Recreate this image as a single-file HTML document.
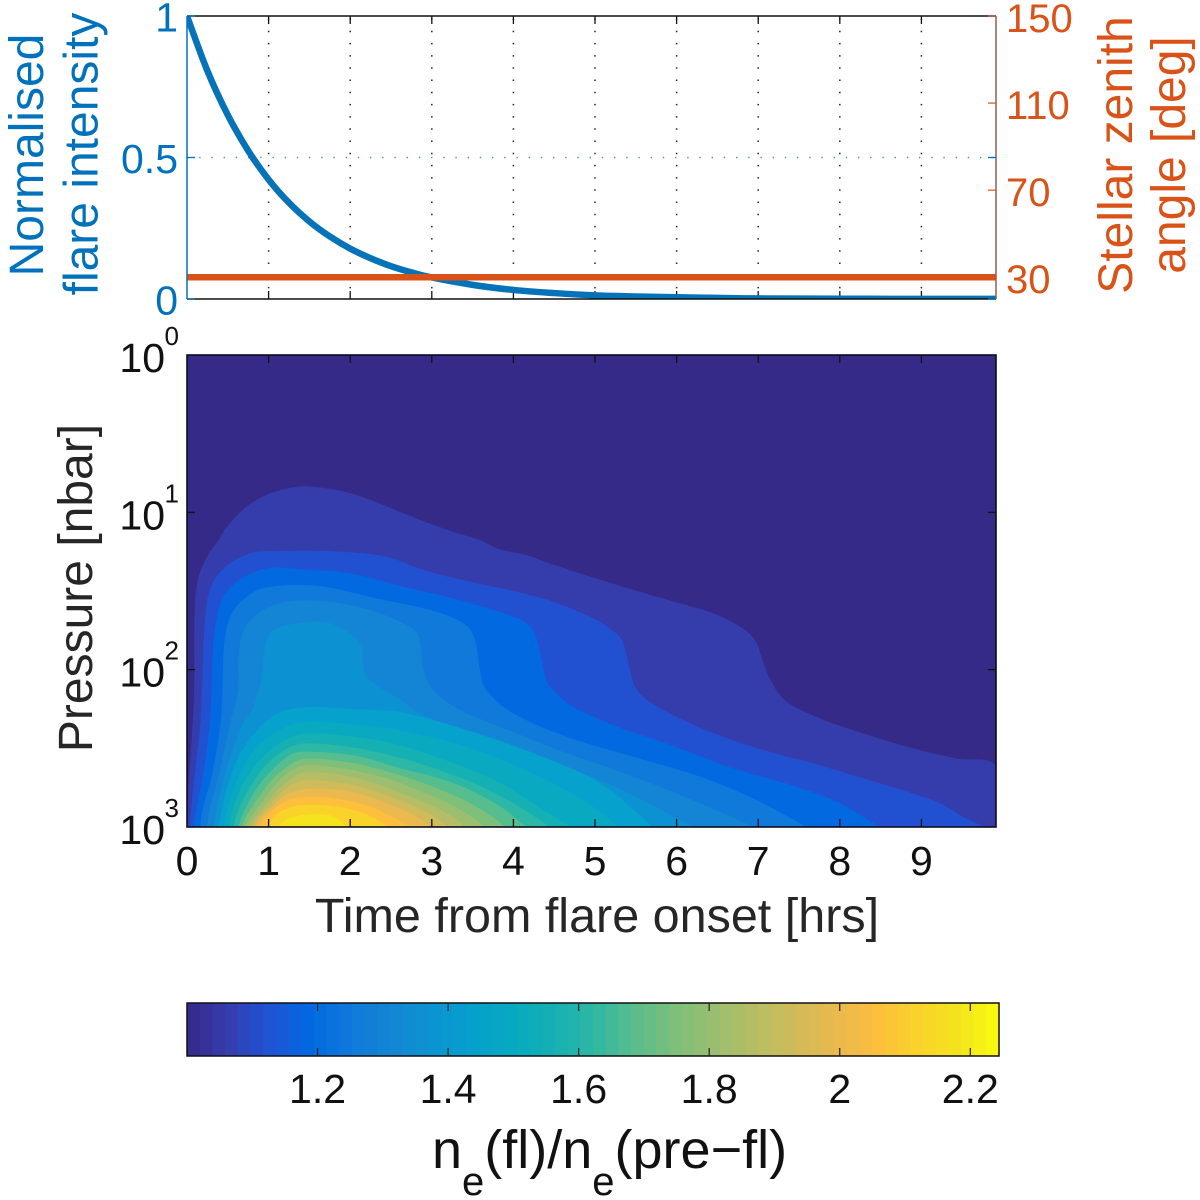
<!DOCTYPE html>
<html lang="en">
<head>
<meta charset="utf-8">
<title>Flare electron density ratio</title>
<style>
  html, body { margin: 0; padding: 0; background: #ffffff; }
  svg { display: block; font-family: "Liberation Sans", sans-serif; }
</style>
</head>
<body>
<svg id="chart" xmlns="http://www.w3.org/2000/svg" width="1200" height="1200" viewBox="0 0 1200 1200">
  <defs>
    <clipPath id="top-clip"><rect x="187" y="16" width="809" height="283"/></clipPath>
    <clipPath id="main-clip"><rect x="187" y="355" width="809" height="472"/></clipPath>
  </defs>
  <rect x="0" y="0" width="1200" height="1200" fill="#ffffff"/>

  <g id="top-panel"></g>
  <g id="main-panel"></g>
  <g id="colorbar"></g>

  <text transform="translate(43,155) rotate(-90)" text-anchor="middle" font-size="48" fill="#0072bd">Normalised</text>
  <text transform="translate(97.5,154) rotate(-90)" text-anchor="middle" font-size="48" fill="#0072bd">flare intensity</text>
  <text transform="translate(1132,155) rotate(-90)" text-anchor="middle" font-size="48" fill="#d95319">Stellar zenith</text>
  <text transform="translate(1185,155) rotate(-90)" text-anchor="middle" font-size="48" fill="#d95319">angle [deg]</text>
  <text transform="translate(92,588) rotate(-90)" text-anchor="middle" font-size="48" fill="#262626">Pressure [nbar]</text>
  <text x="597" y="932" text-anchor="middle" font-size="48.5" fill="#262626">Time from flare onset [hrs]</text>
  <text x="432" y="1168" font-size="54" fill="#111111">n<tspan dy="27" font-size="40">e</tspan><tspan dy="-27">(fl)/n</tspan><tspan dy="27" font-size="40">e</tspan><tspan dy="-27">(pre−fl)</tspan></text>
</svg>

<script>
// ---------- data: top panel ----------
const flareHours = [0, 0.25, 0.5, 0.75, 1, 1.25, 1.5, 1.75, 2, 2.25, 2.5, 2.75, 3, 3.5, 4, 4.5, 5, 5.5, 6, 6.5, 7, 8, 9, 9.92];
const flareIntensity = [1, 0.806, 0.65, 0.524, 0.422, 0.34, 0.274, 0.221, 0.178, 0.144, 0.116, 0.094, 0.076, 0.05, 0.032, 0.021, 0.013, 0.009, 0.006, 0.004, 0.002, 0.001, 0.0005, 0.0003];
const zenithHours = [0, 9.92];
const zenithAngle = [30, 30];
const intensityTicks = [0, 0.5, 1];
const intensityTickLabels = ['0', '0.5', '1'];
const zenithTicks = [30, 70, 110, 150];
const zenithTickLabels = ['30', '70', '110', '150'];
const hourTicks = [0, 1, 2, 3, 4, 5, 6, 7, 8, 9];
const hourTickLabels = ['0', '1', '2', '3', '4', '5', '6', '7', '8', '9'];

// ---------- data: contour plot (each line: [hours, log10 pressure in nbar]) ----------
const pressureExponents = [0, 1, 2, 3];
const contourLevels = [1.06, 1.12, 1.19, 1.25, 1.31, 1.37, 1.44, 1.50, 1.56, 1.62, 1.68, 1.75, 1.81, 1.87, 1.93, 2.0, 2.06, 2.12, 2.18];
const contour01 = [[0,3],[0.01,2.87],[0.02,2.72],[0.05,2.49],[0.08,2.236],[0.09,2.02],[0.09,1.706],[0.123,1.451],[0.245,1.282],[0.388,1.176],[0.49,1.091],[0.73,0.964],[1.02,0.879],[1.34,0.837],[1.55,0.837],[1.83,0.858],[2.08,0.89],[2.41,0.954],[2.86,1.049],[3.26,1.123],[3.59,1.176],[3.82,1.233],[4.16,1.272],[4.45,1.325],[4.94,1.409],[5.55,1.505],[6.04,1.579],[6.45,1.642],[6.78,1.727],[6.96,1.812],[7.04,1.918],[7.15,2.066],[7.35,2.204],[7.76,2.31],[8.29,2.405],[8.9,2.5],[9.43,2.564],[9.92,2.617],[9.92,3]];
const contour02 = [[0.03,3],[0.06,2.83],[0.12,2.55],[0.163,2.34],[0.19,2.05],[0.204,1.81],[0.266,1.515],[0.45,1.356],[0.776,1.26],[1.14,1.246],[1.71,1.246],[2.41,1.278],[2.9,1.367],[3.47,1.441],[4.04,1.505],[4.49,1.568],[4.94,1.663],[5.18,1.738],[5.33,1.812],[5.41,1.96],[5.49,2.108],[5.67,2.204],[6.04,2.31],[6.57,2.426],[7.14,2.522],[7.68,2.596],[8.29,2.691],[8.9,2.787],[9.23,2.85],[9.51,2.935],[9.78,3]];
const contour03 = [[0.08,3],[0.12,2.87],[0.2,2.66],[0.286,2.3],[0.306,2.024],[0.327,1.81],[0.41,1.579],[0.613,1.441],[0.98,1.356],[1.43,1.363],[2.0,1.388],[2.65,1.473],[3.26,1.547],[3.88,1.642],[4.16,1.706],[4.29,1.812],[4.39,2.045],[4.49,2.13],[4.73,2.236],[5.27,2.363],[5.88,2.47],[6.65,2.62],[7.47,2.744],[8.0,2.85],[8.49,3]];
const contour04 = [[0.16,3],[0.2,2.87],[0.31,2.66],[0.42,2.3],[0.45,1.875],[0.53,1.663],[0.735,1.536],[1.02,1.473],[1.63,1.469],[2.32,1.547],[2.98,1.621],[3.39,1.706],[3.53,1.812],[3.59,2.0],[3.67,2.13],[4.0,2.278],[4.65,2.426],[5.47,2.553],[6.29,2.68],[6.98,2.829],[7.59,3]];
const contour05 = [[0.245,3],[0.286,2.87],[0.41,2.62],[0.53,2.34],[0.6,2.2],[0.633,2.087],[0.633,1.918],[0.694,1.748],[0.9,1.632],[1.225,1.568],[1.75,1.568],[2.24,1.621],[2.65,1.706],[2.84,1.79],[2.9,2.0],[3.02,2.13],[3.35,2.257],[4.04,2.405],[4.65,2.53],[5.47,2.68],[6.29,2.85],[6.94,3]];
const contour06 = [[0.327,3],[0.37,2.87],[0.49,2.62],[0.674,2.36],[0.797,2.257],[0.88,2.13],[0.92,2.03],[0.94,1.918],[0.98,1.81],[1.1,1.738],[1.43,1.7],[1.71,1.7],[1.96,1.759],[2.14,1.854],[2.2,2.045],[2.61,2.19],[2.94,2.3],[3.84,2.47],[4.65,2.617],[5.47,2.8],[6.2,3]];
const contour07 = [[0.39,3],[0.45,2.83],[0.61,2.575],[0.86,2.384],[1.14,2.27],[1.55,2.236],[2.0,2.25],[2.61,2.27],[3.43,2.384],[4.24,2.53],[5.06,2.72],[5.71,3]];
const contour08 = [[0.45,3],[0.51,2.85],[0.65,2.66],[0.86,2.49],[1.185,2.37],[1.5,2.33],[2.1,2.35],[2.61,2.385],[3.43,2.49],[4.24,2.66],[4.86,2.83],[5.3,3]];
const contour09 = [[0.51,3],[0.57,2.87],[0.715,2.7],[0.94,2.55],[1.225,2.44],[1.5,2.405],[2.1,2.43],[2.61,2.48],[3.22,2.585],[3.84,2.72],[4.24,2.85],[4.71,3]];
const contour10 = [[0.57,3],[0.63,2.89],[0.776,2.744],[0.98,2.6],[1.27,2.49],[1.55,2.469],[2.1,2.5],[2.61,2.56],[3.1,2.64],[3.6,2.74],[4.1,2.88],[4.45,3]];
const contour11 = [[0.63,3],[0.69,2.91],[0.84,2.765],[1.02,2.65],[1.27,2.54],[1.55,2.522],[2.1,2.55],[2.61,2.627],[3.02,2.68],[3.43,2.755],[3.84,2.87],[4.16,3]];
const contour12 = [[0.67,3],[0.74,2.92],[0.88,2.81],[1.06,2.69],[1.31,2.59],[1.55,2.564],[2.1,2.6],[2.6,2.67],[3.0,2.74],[3.4,2.83],[3.7,2.92],[3.9,3]];
const contour13 = [[0.71,3],[0.79,2.93],[0.92,2.84],[1.1,2.72],[1.31,2.63],[1.55,2.606],[2.05,2.64],[2.5,2.7],[2.9,2.78],[3.25,2.86],[3.5,2.94],[3.65,3]];
const contour14 = [[0.75,3],[0.83,2.94],[0.96,2.86],[1.14,2.75],[1.35,2.67],[1.55,2.65],[2.0,2.68],[2.4,2.74],[2.8,2.82],[3.1,2.89],[3.3,2.95],[3.4,3]];
const contour15 = [[0.79,3],[0.87,2.94],[1.0,2.87],[1.18,2.77],[1.35,2.715],[1.55,2.7],[2.0,2.73],[2.35,2.78],[2.7,2.85],[2.95,2.91],[3.1,2.96],[3.2,3]];
const contour16 = [[0.83,3],[0.91,2.94],[1.05,2.87],[1.2,2.8],[1.38,2.765],[1.55,2.755],[1.95,2.77],[2.3,2.82],[2.6,2.88],[2.8,2.93],[3.0,3]];
const contour17 = [[0.88,3],[0.96,2.94],[1.1,2.87],[1.3,2.82],[1.6,2.808],[1.95,2.83],[2.25,2.87],[2.5,2.93],[2.75,3]];
const contour18 = [[0.98,3],[1.1,2.92],[1.3,2.87],[1.6,2.86],[1.9,2.875],[2.15,2.91],[2.35,2.96],[2.45,3]];
const contour19 = [[1.12,3],[1.25,2.945],[1.55,2.918],[1.8,2.935],[1.95,3]];
const contourLines = [contour01, contour02, contour03, contour04, contour05, contour06, contour07, contour08, contour09, contour10, contour11, contour12, contour13, contour14, contour15, contour16, contour17, contour18, contour19];

// ---------- data: colour scale ----------
const colorbarMin = 1.0;
const colorbarMax = 2.244;
const colorbarTicks = [1.2, 1.4, 1.6, 1.8, 2.0, 2.2];
const colorbarTickLabels = ['1.2', '1.4', '1.6', '1.8', '2', '2.2'];
const colormap = ['#352a87','#353dad','#2053d4','#0268e1','#1079da','#1485d4','#0c93d2','#06a0cd','#07a9c2','#15b0b4','#2eb7a4','#59bd8c','#7cbf7b','#9bbe6f','#b7bd64','#d1bb59','#e9b94e','#fdbe3d','#f9d32a','#f5e41d','#f9fb0e'];

// ---------- axis functions ----------
const NS = 'http://www.w3.org/2000/svg';
const plotLeft = 187, plotRight = 996, hoursMax = 9.914;
const topY0 = 299, topY1 = 16;
const mainTop = 355, mainBottom = 827;
const cbLeft = 187, cbRight = 999, cbTop = 1003, cbBottom = 1056;

function xHours(h) { return plotLeft + (h / hoursMax) * (plotRight - plotLeft); }
function yIntensity(v) { return topY0 + v * (topY1 - topY0); }
function yZenith(a) { return topY0 + ((a - 20) / 130) * (topY1 - topY0); }
function yPressure(e) { return mainTop + (e / 3) * (mainBottom - mainTop); }
function xColorbar(v) { return cbLeft + ((v - colorbarMin) / (colorbarMax - colorbarMin)) * (cbRight - cbLeft); }

function hexToRgb(hex) { return [1, 3, 5].map(function (i) { return parseInt(hex.substr(i, 2), 16); }); }
function colorFor(v) {
  const t = Math.min(1, Math.max(0, (v - colorbarMin) / (colorbarMax - colorbarMin))) * (colormap.length - 1);
  const i = Math.min(colormap.length - 2, Math.floor(t));
  const a = hexToRgb(colormap[i]), b = hexToRgb(colormap[i + 1]), f = t - i;
  return 'rgb(' + a.map(function (c, k) { return Math.round(c + (b[k] - c) * f); }).join(',') + ')';
}

function make(tag, parent, attrs, text) {
  const el = document.createElementNS(NS, tag);
  Object.keys(attrs).forEach(function (k) { el.setAttribute(k, attrs[k]); });
  if (text !== undefined) { el.textContent = text; }
  parent.appendChild(el);
  return el;
}

function smoothOpen(pts) {
  let d = 'M' + pts[0][0].toFixed(2) + ' ' + pts[0][1].toFixed(2);
  for (let i = 0; i < pts.length - 1; i++) {
    const p0 = pts[Math.max(0, i - 1)], p1 = pts[i], p2 = pts[i + 1], p3 = pts[Math.min(pts.length - 1, i + 2)];
    d += 'C' + (p1[0] + (p2[0] - p0[0]) / 6).toFixed(2) + ' ' + (p1[1] + (p2[1] - p0[1]) / 6).toFixed(2) + ' ' +
         (p2[0] - (p3[0] - p1[0]) / 6).toFixed(2) + ' ' + (p2[1] - (p3[1] - p1[1]) / 6).toFixed(2) + ' ' +
         p2[0].toFixed(2) + ' ' + p2[1].toFixed(2);
  }
  return d;
}

// ---------- top panel ----------
const topPanel = document.getElementById('top-panel');

hourTicks.forEach(function (h) {
  if (h === 0) { return; }
  const x = xHours(h);
  const grid = make('line', topPanel, { x1: x, x2: x, y1: topY1, y2: topY0, stroke: '#222222', 'stroke-width': 1.5, 'stroke-dasharray': '1.5 10.7', 'stroke-dashoffset': -2.5 });
  
  
  const tb = make('line', topPanel, { x1: x, x2: x, y1: topY0, y2: topY0 - 8, stroke: '#111111', 'stroke-width': 1.3 });
  
  
  const tt = make('line', topPanel, { x1: x, x2: x, y1: topY1, y2: topY1 + 8, stroke: '#111111', 'stroke-width': 1.3 });
  
  
});

const midGrid = make('line', topPanel, { x1: plotLeft, x2: plotRight, y1: yIntensity(0.5), y2: yIntensity(0.5), stroke: '#4b93c6', 'stroke-width': 1.4, 'stroke-dasharray': '1.4 10.8' });



const flarePts = flareHours.map(function (h, i) { return [xHours(h), yIntensity(flareIntensity[i])]; });
const flareLine = make('path', topPanel, { d: smoothOpen(flarePts), fill: 'none', stroke: '#0672b8', 'stroke-width': 6.5, 'clip-path': 'url(#top-clip)' });



const zenithLine = make('line', topPanel, { x1: xHours(zenithHours[0]), x2: xHours(zenithHours[1]), y1: yZenith(zenithAngle[0]), y2: yZenith(zenithAngle[1]), stroke: '#d95319', 'stroke-width': 6.5, 'clip-path': 'url(#top-clip)' });



const topEdge = make('line', topPanel, { x1: plotLeft, x2: plotRight, y1: topY1, y2: topY1, stroke: '#111111', 'stroke-width': 1.5 });


const bottomEdge = make('line', topPanel, { x1: plotLeft, x2: plotRight, y1: topY0, y2: topY0, stroke: '#111111', 'stroke-width': 1.5 });


const leftEdge = make('line', topPanel, { x1: plotLeft, x2: plotLeft, y1: topY1, y2: topY0, stroke: '#0072bd', 'stroke-width': 1.5 });


const rightEdge = make('line', topPanel, { x1: plotRight, x2: plotRight, y1: topY1, y2: topY0, stroke: '#8f5f50', 'stroke-width': 1.5 });



intensityTicks.forEach(function (v, i) {
  const y = yIntensity(v);
  const lab = make('text', topPanel, { x: 178, y: y + 15.5, 'text-anchor': 'end', 'font-size': 41, fill: '#0072bd' }, intensityTickLabels[i]);
  
  
  const tl = make('line', topPanel, { x1: plotLeft, x2: plotLeft + 8, y1: y, y2: y, stroke: '#0072bd', 'stroke-width': 1.3 });
  
  
  const tr = make('line', topPanel, { x1: plotRight, x2: plotRight - 8, y1: y, y2: y, stroke: '#0072bd', 'stroke-width': 1.3 });
  
  
});

zenithTicks.forEach(function (v, i) {
  const y = yZenith(v);
  const lab = make('text', topPanel, { x: 1006, y: y + 16, 'font-size': 40, fill: '#d95319' }, zenithTickLabels[i]);
  
  
  const tr = make('line', topPanel, { x1: plotRight, x2: plotRight - 8, y1: y, y2: y, stroke: '#d95319', 'stroke-width': 1.2 });
  
  
});

// ---------- contour panel ----------
const mainPanel = document.getElementById('main-panel');
const fieldGroup = make('g', mainPanel, { 'clip-path': 'url(#main-clip)' });



const baseBand = make('rect', fieldGroup, { x: plotLeft, y: mainTop, width: plotRight - plotLeft, height: mainBottom - mainTop, fill: colorFor(colorbarMin) });



contourLines.forEach(function (line, i) {
  const pts = line.map(function (p) { return [xHours(p[0]), yPressure(p[1])]; });
  const d = smoothOpen(pts) + 'L' + pts[pts.length - 1][0].toFixed(2) + ' ' + (mainBottom + 4) + 'L' + pts[0][0].toFixed(2) + ' ' + (mainBottom + 4) + 'Z';
  const band = make('path', fieldGroup, { d: d, fill: colorFor(contourLevels[i]) });
  
  
});

const mainFrame = make('rect', mainPanel, { x: plotLeft, y: mainTop, width: plotRight - plotLeft, height: mainBottom - mainTop, fill: 'none', stroke: '#0d0d20', 'stroke-width': 1.6 });



hourTicks.forEach(function (h, i) {
  const x = xHours(h);
  if (h !== 0) {
    const tb = make('line', mainPanel, { x1: x, x2: x, y1: mainBottom, y2: mainBottom - 8, stroke: '#111111', 'stroke-width': 1.3 });
    
    
    const tt = make('line', mainPanel, { x1: x, x2: x, y1: mainTop, y2: mainTop + 8, stroke: '#111111', 'stroke-width': 1.3 });
    
    
  }
  const lab = make('text', mainPanel, { x: x, y: 875, 'text-anchor': 'middle', 'font-size': 41, fill: '#111111' }, hourTickLabels[i]);
  
  
});

pressureExponents.forEach(function (e) {
  const y = yPressure(e);
  if (e !== 0 && e !== 3) {
    const tl = make('line', mainPanel, { x1: plotLeft, x2: plotLeft + 8, y1: y, y2: y, stroke: '#111111', 'stroke-width': 1.3 });
    
    
    const tr = make('line', mainPanel, { x1: plotRight, x2: plotRight - 8, y1: y, y2: y, stroke: '#111111', 'stroke-width': 1.3 });
    
    
  }
  const base = make('text', mainPanel, { x: 165, y: y + 17, 'text-anchor': 'end', 'font-size': 41, fill: '#111111' }, '10');
  
  
  const exp = make('text', mainPanel, { x: 179, y: y - 10, 'text-anchor': 'end', 'font-size': 26, fill: '#111111' }, String(e));
  
  
});

// ---------- colorbar ----------
const cbGroup = document.getElementById('colorbar');
const cbSteps = 64;
for (let s = 0; s < cbSteps; s++) {
  const v0 = colorbarMin + (colorbarMax - colorbarMin) * s / cbSteps;
  const v1 = colorbarMin + (colorbarMax - colorbarMin) * (s + 1) / cbSteps;
  const cell = make('rect', cbGroup, { x: xColorbar(v0), y: cbTop, width: xColorbar(v1) - xColorbar(v0) + 0.6, height: cbBottom - cbTop, fill: colorFor((v0 + v1) / 2) });
  
  
}
const cbFrame = make('rect', cbGroup, { x: cbLeft, y: cbTop, width: cbRight - cbLeft, height: cbBottom - cbTop, fill: 'none', stroke: '#111111', 'stroke-width': 1.5 });


colorbarTicks.forEach(function (v, i) {
  const x = xColorbar(v);
  const t1 = make('line', cbGroup, { x1: x, x2: x, y1: cbTop, y2: cbTop + 8, stroke: '#222222', 'stroke-width': 1.2 });
  
  
  const t2 = make('line', cbGroup, { x1: x, x2: x, y1: cbBottom, y2: cbBottom - 8, stroke: '#222222', 'stroke-width': 1.2 });
  
  
  const lab = make('text', cbGroup, { x: x, y: 1103, 'text-anchor': 'middle', 'font-size': 41, fill: '#111111' }, colorbarTickLabels[i]);
  
  
});
</script>
</body>
</html>
